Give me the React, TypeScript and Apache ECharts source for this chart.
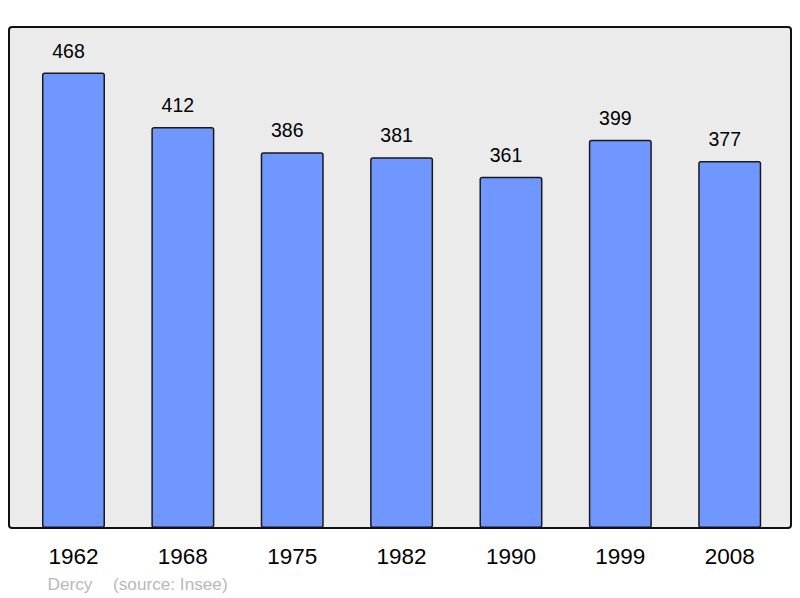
import React, { useEffect, useRef } from "react";
import * as echarts from "echarts";

const years = ["1962", "1968", "1975", "1982", "1990", "1999", "2008"];
const population = [468, 412, 386, 381, 361, 399, 377];
const commune = "Dercy";
const source = "(source: Insee)";

export default function App() {
  const ref = useRef<HTMLDivElement>(null);
  useEffect(() => {
    if (!ref.current) return;
    const chart = echarts.init(ref.current, null, { renderer: "svg" });
    const font = "'Liberation Sans', Arial, sans-serif";
    chart.setOption({
      animation: false,
      backgroundColor: "#ffffff",
      textStyle: { fontFamily: font },
      grid: { left: 18.8, width: 765.6, top: 27, height: 501 },
      xAxis: {
        type: "category",
        data: years,
        axisLine: { show: false },
        axisTick: { show: false },
        axisLabel: { fontSize: 22.5, color: "#000", margin: 17, fontFamily: font },
      },
      yAxis: {
        type: "value",
        min: 0,
        max: 514.8,
        show: false,
        splitLine: { show: false },
      },
      graphic: [
        {
          type: "rect",
          z: 0,
          shape: { x: 9, y: 27, width: 782, height: 501, r: 3 },
          style: { fill: "#ebebeb", stroke: "none" },
        },
        {
          type: "rect",
          z: 100,
          shape: { x: 9, y: 27, width: 782, height: 501, r: 3 },
          style: { fill: "none", stroke: "#111", lineWidth: 2 },
        },
        {
          type: "text",
          x: 47.5,
          y: 584,
          style: {
            text: commune,
            fill: "#b8b8b8",
            fontSize: 17.2,
            fontFamily: font,
            verticalAlign: "middle",
          },
        },
        {
          type: "text",
          x: 113,
          y: 584,
          style: {
            text: source,
            fill: "#b8b8b8",
            fontSize: 17.2,
            fontFamily: font,
            verticalAlign: "middle",
          },
        },
      ],
      series: [
        {
          type: "bar",
          data: population,
          barWidth: "57.6%",
          z: 5,
          itemStyle: {
            color: "#7097ff",
            borderColor: "#1a1a1a",
            borderWidth: 1.5,
            borderRadius: 2,
          },
          label: {
            show: true,
            position: "top",
            distance: 12,
            offset: [-5, 0],
            fontSize: 19.5,
            color: "#000",
            fontFamily: font,
          },
        },
      ],
    });
    return () => chart.dispose();
  }, []);
  return <div ref={ref} style={{ width: 800, height: 598, position: "absolute", left: 0, top: 0 }} />;
}
